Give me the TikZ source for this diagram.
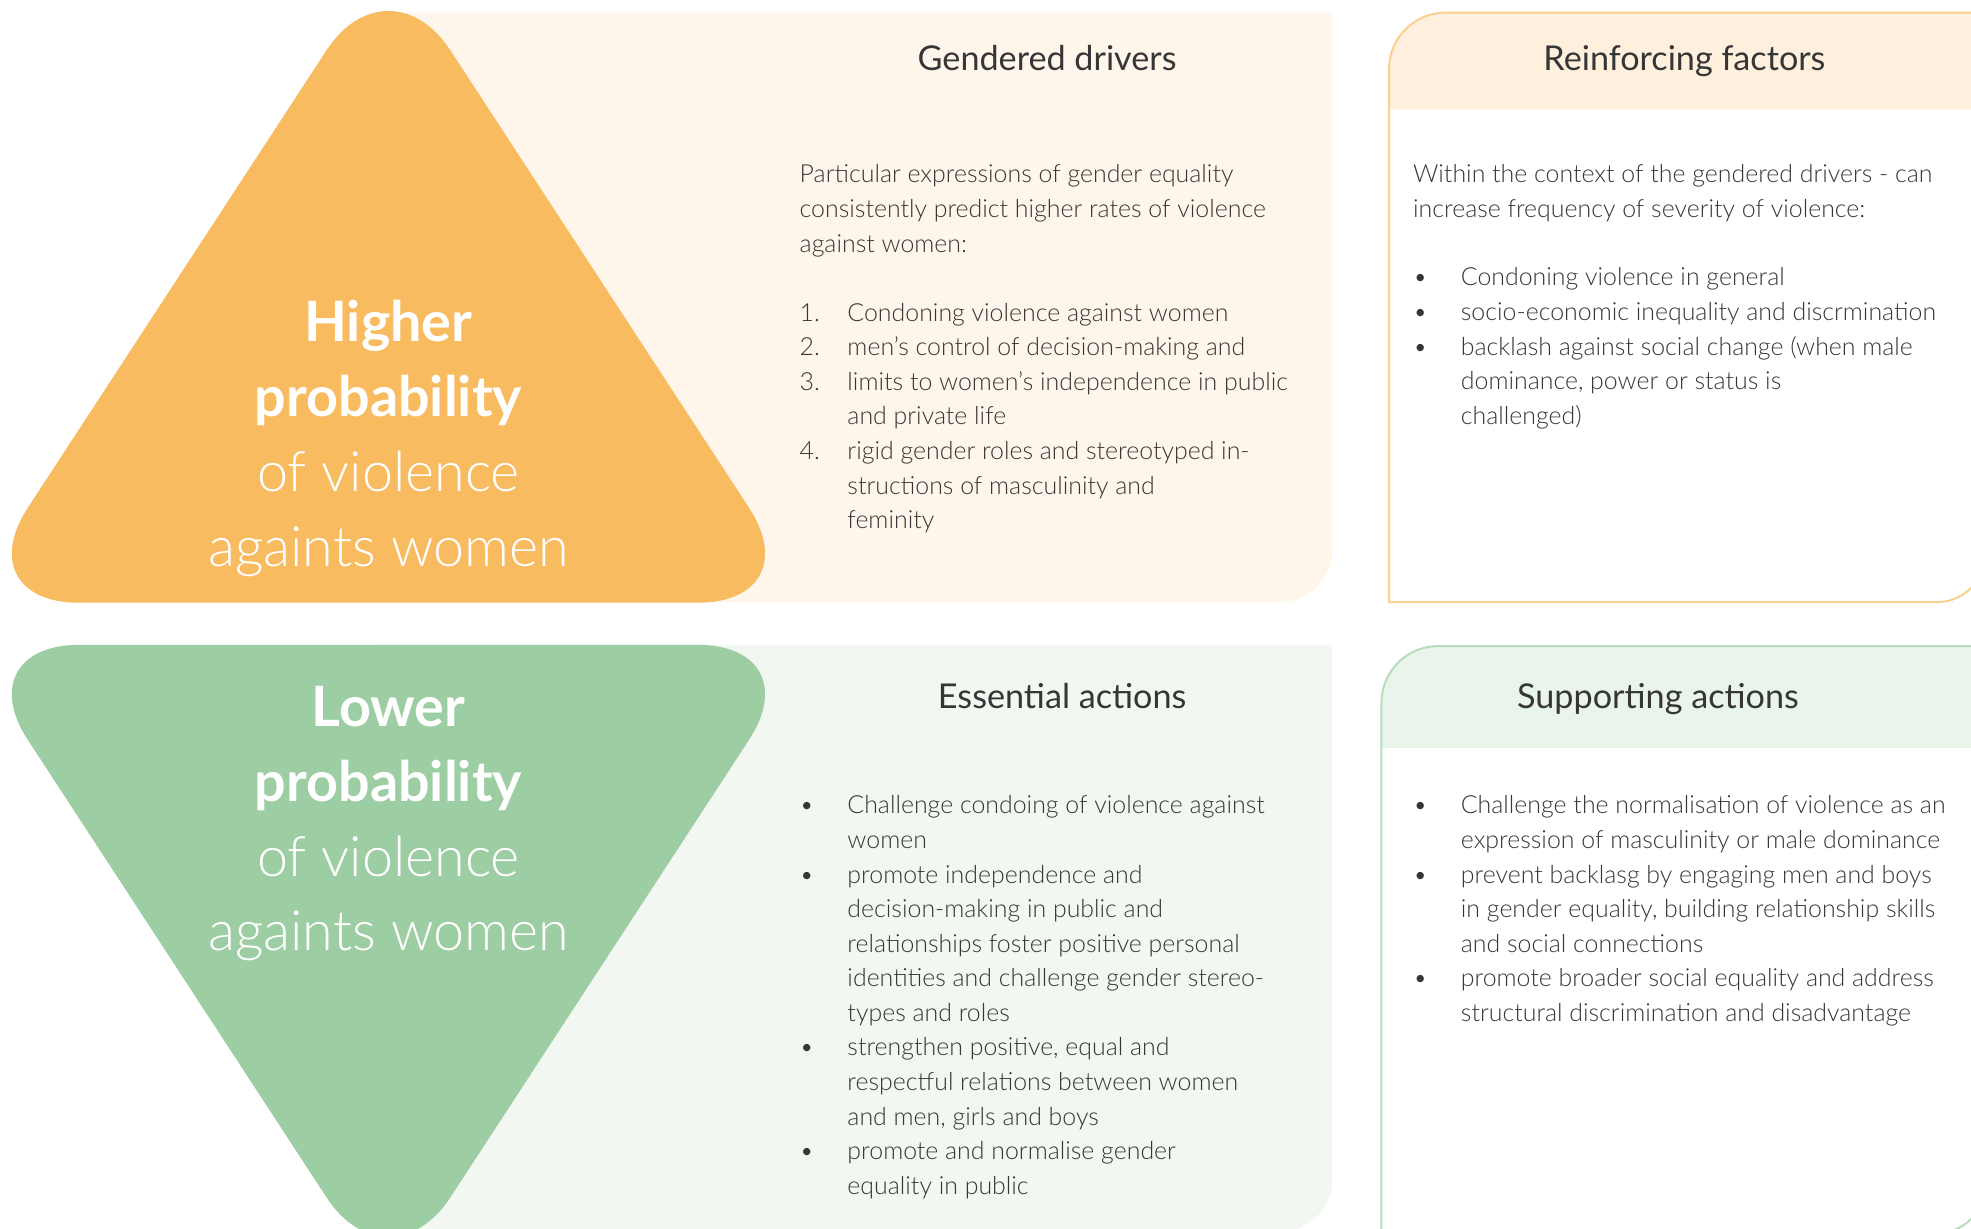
\documentclass[tikz,border=0pt]{standalone}
\usepackage{fontspec}
\setmainfont{Lato}
\newfontfamily\latolight{Lato Light}
\usepackage{array}

\definecolor{inkgray}{HTML}{363636}
\definecolor{tripeach}{HTML}{F8BB60}
\definecolor{trisage}{HTML}{9DCDA3}
\definecolor{creampanel}{HTML}{FEF6EA}
\definecolor{mintpanel}{HTML}{F2F7F1}
\definecolor{peachhead}{HTML}{FEF0DD}
\definecolor{peachline}{HTML}{FAD08F}
\definecolor{sagehead}{HTML}{E9F4EA}
\definecolor{sageline}{HTML}{B7DDBB}

\begin{document}
\begin{tikzpicture}[x=1pt,y=-1pt,
    txt/.style={inner sep=0pt, text=inkgray},
    body/.style={txt, anchor=base west, font=\latolight\fontsize{19.8}{27.5}\selectfont},
    boxtitle/.style={txt, anchor=base, font=\fontsize{27.2}{30}\selectfont},
    tritext/.style={inner sep=0pt, text=white, anchor=base, font=\fontsize{44.3}{59.5}\selectfont},
    boxline/.style={line width=1.6pt}
  ]
  \useasboundingbox (0,0) rectangle (1568,977);

  % panels behind the triangles
  \fill[creampanel] (300,10) -- (1060,10) -- (1060,437)
       arc[start angle=0, end angle=90, radius=42] -- (300,479) -- cycle;
  \fill[mintpanel] (300,513) -- (1060,513) -- (1060,938)
       arc[start angle=0, end angle=90, radius=42] -- (300,980) -- cycle;

  % the two triangles
  \fill[tripeach, rounded corners=90pt] (309,-35.4) -- (645.2,479.5) -- (-27.2,479.5) -- cycle;
  \fill[trisage, rounded corners=90pt] (309,1028) -- (645.2,513) -- (-27.2,513) -- cycle;

  % right hand boxes
  \fill[peachhead] (1105,87) -- (1105,55)
       arc[start angle=180, end angle=270, radius=45] -- (1579,10) -- (1579,87) -- cycle;
  \draw[peachline, boxline] (1105,479) -- (1105,55)
       arc[start angle=180, end angle=270, radius=45] -- (1579,10) -- (1579,441)
       arc[start angle=0, end angle=90, radius=38] -- cycle;

  \fill[sagehead] (1099,595) -- (1099,559)
       arc[start angle=180, end angle=270, radius=45] -- (1579,514) -- (1579,595) -- cycle;
  \draw[sageline, boxline] (1099,981) -- (1099,559)
       arc[start angle=180, end angle=270, radius=45] -- (1579,514) -- (1579,943)
       arc[start angle=0, end angle=90, radius=38] -- cycle;

  % triangle labels
  \node[tritext] (hiprob) at (309,272) {\begin{tabular}[t]{@{}c@{}}
      \bfseries Higher\\ \bfseries probability\\ \latolight of violence\\ \latolight againts women\end{tabular}};
  \node[tritext] (loprob) at (309,578) {\begin{tabular}[t]{@{}c@{}}
      \bfseries Lower\\ \bfseries probability\\ \latolight of violence\\ \latolight againts women\end{tabular}};

  % titles
  \node[boxtitle] (gdtitle) at (833,56) {Gendered drivers};
  \node[boxtitle] (rftitle) at (1340,56) {Reinforcing factors};
  \node[boxtitle] (eatitle) at (845,564) {Essential actions};
  \node[boxtitle] (satitle) at (1319,564) {Supporting actions};

  % gendered drivers
  \node[body] (gdintro) at (636,145.5) {\begin{tabular}[t]{@{}l@{}}
      Particular expressions of gender equality\\
      consistently predict higher rates of violence\\
      against women:\end{tabular}};
  \node[body] (gdlist) at (636,255.5) {\begin{tabular}[t]{@{}p{38pt}@{}l@{}}
      1. & Condoning violence against women\\
      2. & men’s control of decision-making and\\
      3. & limits to women’s independence in public\\
         & and private life\\
      4. & rigid gender roles and stereotyped in-\\
         & structions of masculinity and\\
         & feminity\end{tabular}};

  % reinforcing factors
  \node[body] (rfintro) at (1124,145.5) {\begin{tabular}[t]{@{}l@{}}
      Within the context of the gendered drivers - can\\
      increase frequency of severity of violence:\end{tabular}};
  \node[body] (rflist) at (1124,227.5) {\begin{tabular}[t]{@{}p{38pt}@{}l@{}}
      \textbullet & Condoning violence in general\\
      \textbullet & socio-economic inequality and discrmination\\
      \textbullet & backlash against social change (when male\\
                  & dominance, power or status is\\
                  & challenged)\end{tabular}};

  % essential actions
  \node[body] (ealist) at (636,647.5) {\begin{tabular}[t]{@{}p{38pt}@{}l@{}}
      \textbullet & Challenge condoing of violence against\\
                  & women\\
      \textbullet & promote independence and\\
                  & decision-making in public and\\
                  & relationships foster positive personal\\
                  & identities and challenge gender stereo-\\
                  & types and roles\\
      \textbullet & strengthen positive, equal and\\
                  & respectful relations between women\\
                  & and men, girls and boys\\
      \textbullet & promote and normalise gender\\
                  & equality in public\end{tabular}};

  % supporting actions
  \node[body] (salist) at (1124,647.5) {\begin{tabular}[t]{@{}p{38pt}@{}l@{}}
      \textbullet & Challenge the normalisation of violence as an\\
                  & expression of masculinity or male dominance\\
      \textbullet & prevent backlasg by engaging men and boys\\
                  & in gender equality, building relationship skills\\
                  & and social connections\\
      \textbullet & promote broader social equality and address\\
                  & structural discrimination and disadvantage\end{tabular}};
\end{tikzpicture}
\end{document}
